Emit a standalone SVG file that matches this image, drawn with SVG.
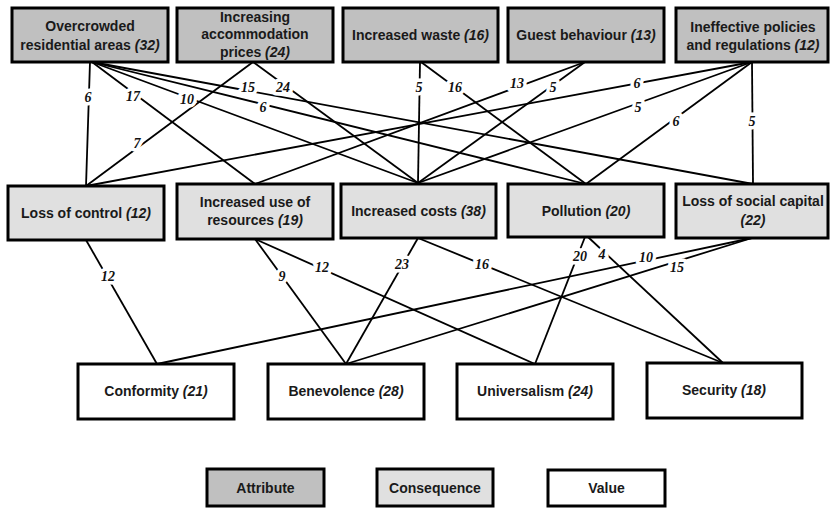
<svg xmlns="http://www.w3.org/2000/svg" width="830" height="508" viewBox="0 0 830 508">
<style>
.box{stroke:#000;stroke-width:3}
.attr{fill:#c0c0c0}
.cons{fill:#e0e0e0}
.val{fill:#fff}
.t{font-family:"Liberation Sans",Arial,sans-serif;font-weight:bold;font-size:14px;fill:#1a1a1a;text-anchor:middle}
.i{font-style:italic}
.e{stroke:#000;stroke-width:1.8;fill:none}
.lb{font-family:"Liberation Serif","Times New Roman",serif;font-weight:bold;font-style:italic;font-size:14px;fill:#111;text-anchor:middle;stroke:#fff;stroke-width:7;paint-order:stroke;stroke-linejoin:round}
</style>
<rect width="830" height="508" fill="#fff"/>
<g id="connectors">
<line class="e" x1="90" y1="62" x2="86" y2="186"/>
<line class="e" x1="92" y1="62" x2="255" y2="184"/>
<line class="e" x1="92" y1="62" x2="418" y2="183"/>
<line class="e" x1="92" y1="62" x2="753" y2="184"/>
<line class="e" x1="92" y1="62" x2="586" y2="184"/>
<line class="e" x1="253" y1="62" x2="418" y2="183"/>
<line class="e" x1="253" y1="62" x2="86" y2="186"/>
<line class="e" x1="420" y1="62" x2="418" y2="183"/>
<line class="e" x1="421" y1="62" x2="586" y2="184"/>
<line class="e" x1="585" y1="62" x2="255" y2="184"/>
<line class="e" x1="585" y1="62" x2="418" y2="183"/>
<line class="e" x1="752" y1="62" x2="86" y2="186"/>
<line class="e" x1="752" y1="62" x2="418" y2="183"/>
<line class="e" x1="752" y1="62" x2="586" y2="184"/>
<line class="e" x1="752" y1="62" x2="753" y2="184"/>
<line class="e" x1="86" y1="240" x2="157" y2="364"/>
<line class="e" x1="255" y1="239" x2="346" y2="364"/>
<line class="e" x1="255" y1="239" x2="535" y2="364"/>
<line class="e" x1="418" y1="238" x2="346" y2="364"/>
<line class="e" x1="418" y1="238" x2="723" y2="363"/>
<line class="e" x1="585" y1="237" x2="535" y2="364"/>
<line class="e" x1="588" y1="237" x2="723" y2="363"/>
<line class="e" x1="752" y1="238" x2="157" y2="364"/>
<line class="e" x1="752" y1="238" x2="346" y2="364"/>
<text class="lb" x="88" y="102">6</text>
<text class="lb" x="133" y="101">17</text>
<text class="lb" x="187" y="104">10</text>
<text class="lb" x="248" y="92">15</text>
<text class="lb" x="263" y="112">6</text>
<text class="lb" x="283" y="92">24</text>
<text class="lb" x="137" y="148">7</text>
<text class="lb" x="419" y="92">5</text>
<text class="lb" x="455" y="92">16</text>
<text class="lb" x="517" y="88">13</text>
<text class="lb" x="553" y="92">5</text>
<text class="lb" x="637" y="88">6</text>
<text class="lb" x="638" y="112">5</text>
<text class="lb" x="676" y="126">6</text>
<text class="lb" x="752" y="126">5</text>
<text class="lb" x="108" y="281">12</text>
<text class="lb" x="282" y="281">9</text>
<text class="lb" x="322" y="272">12</text>
<text class="lb" x="402" y="269">23</text>
<text class="lb" x="482" y="269">16</text>
<text class="lb" x="580" y="261">20</text>
<text class="lb" x="602" y="259">4</text>
<text class="lb" x="646" y="262">10</text>
<text class="lb" x="677" y="272">15</text>
</g>
<g id="overcrowded">
<rect class="box attr" x="12" y="8" width="156" height="54"/>
<text class="t" x="90" y="31">Overcrowded</text>
<text class="t" x="90" y="49.5">residential areas <tspan class="i">(32)</tspan></text>
</g>
<g id="accommodation">
<rect class="box attr" x="177" y="8" width="156" height="54"/>
<text class="t" x="255" y="21.5">Increasing</text>
<text class="t" x="255" y="39">accommodation</text>
<text class="t" x="255" y="57">prices <tspan class="i">(24)</tspan></text>
</g>
<g id="waste">
<rect class="box attr" x="343" y="8" width="155" height="54"/>
<text class="t" x="420.5" y="40">Increased waste <tspan class="i">(16)</tspan></text>
</g>
<g id="guest">
<rect class="box attr" x="508" y="8" width="156" height="54"/>
<text class="t" x="586" y="40">Guest behaviour <tspan class="i">(13)</tspan></text>
</g>
<g id="policies">
<rect class="box attr" x="676" y="8" width="152" height="54"/>
<text class="t" x="753" y="31.5">Ineffective policies</text>
<text class="t" x="753" y="49.5">and regulations <tspan class="i">(12)</tspan></text>
</g>
<g id="lossControl">
<rect class="box cons" x="8" y="186" width="156" height="54"/>
<text class="t" x="86" y="218">Loss of control <tspan class="i">(12)</tspan></text>
</g>
<g id="resources">
<rect class="box cons" x="177" y="184" width="156" height="55"/>
<text class="t" x="255" y="207">Increased use of</text>
<text class="t" x="255" y="225">resources <tspan class="i">(19)</tspan></text>
</g>
<g id="costs">
<rect class="box cons" x="341" y="184" width="155" height="54"/>
<text class="t" x="418.5" y="216">Increased costs <tspan class="i">(38)</tspan></text>
</g>
<g id="pollution">
<rect class="box cons" x="508" y="184" width="156" height="53"/>
<text class="t" x="586" y="216">Pollution <tspan class="i">(20)</tspan></text>
</g>
<g id="socialCapital">
<rect class="box cons" x="676" y="184" width="152" height="54"/>
<text class="t" x="753" y="206">Loss of social capital</text>
<text class="t i" x="753" y="225">(22)</text>
</g>
<g id="conformity">
<rect class="box val" x="78" y="364" width="156" height="55"/>
<text class="t" x="156" y="396">Conformity <tspan class="i">(21)</tspan></text>
</g>
<g id="benevolence">
<rect class="box val" x="268" y="364" width="156" height="55"/>
<text class="t" x="346" y="396">Benevolence <tspan class="i">(28)</tspan></text>
</g>
<g id="universalism">
<rect class="box val" x="457" y="364" width="156" height="55"/>
<text class="t" x="535" y="396">Universalism <tspan class="i">(24)</tspan></text>
</g>
<g id="security">
<rect class="box val" x="647" y="363" width="155" height="55"/>
<text class="t" x="724" y="395">Security <tspan class="i">(18)</tspan></text>
</g>
<g id="legendAttribute">
<rect class="box attr" x="207" y="469" width="117" height="37"/>
<text class="t" x="265.5" y="493">Attribute</text>
</g>
<g id="legendConsequence">
<rect class="box cons" x="377" y="469" width="116" height="37"/>
<text class="t" x="435" y="493">Consequence</text>
</g>
<g id="legendValue">
<rect class="box val" x="548" y="470" width="117" height="36"/>
<text class="t" x="606.5" y="493">Value</text>
</g>
</svg>
